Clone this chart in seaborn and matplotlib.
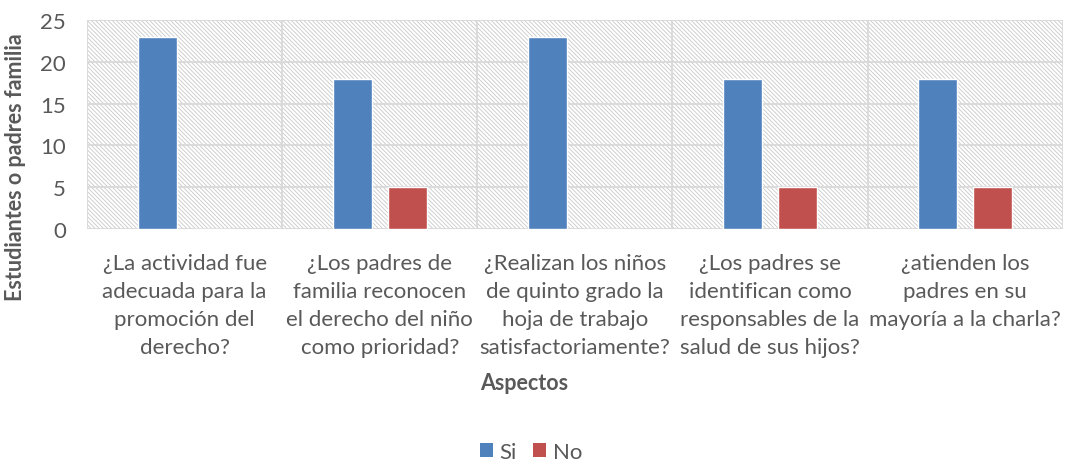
import matplotlib
matplotlib.use("Agg")
import matplotlib.pyplot as plt
from matplotlib.patches import Rectangle, Patch
import seaborn as sns
import pandas as pd

categories = [
    "¿La actividad fue\nadecuada para la\npromoción del\nderecho?",
    "¿Los padres de\nfamilia reconocen\nel derecho del niño\ncomo prioridad?",
    "¿Realizan los niños\nde quinto grado la\nhoja de trabajo\nsatisfactoriamente?",
    "¿Los padres se\nidentifican como\nresponsables de la\nsalud de sus hijos?",
    "¿atienden los\npadres en su\nmayoría a la charla?",
]
si_values = [23, 18, 23, 18, 18]
no_values = [0, 5, 0, 5, 5]
series_names = ["Si", "No"]
colors = ["#4f81bd", "#c0504d"]
y_ticks = [0, 5, 10, 15, 20, 25]

df = pd.DataFrame({
    "Aspecto": categories * 2,
    "Valor": si_values + no_values,
    "Serie": [series_names[0]] * len(categories) + [series_names[1]] * len(categories),
})

sns.set_theme(style="white")
plt.rcParams["font.family"] = ["Lato", "DejaVu Sans"]
plt.rcParams["hatch.linewidth"] = 0.6

text_color = "#595959"
grid_color = "#d9d9d9"

fig = plt.figure(figsize=(10.66, 4.64), dpi=100)
ax = fig.add_axes([0.0816, 0.5043, 0.9154, 0.4504])

sns.barplot(data=df, x="Aspecto", y="Valor", hue="Serie", palette=colors,
            width=0.563, gap=0.29, ax=ax, legend=False, saturation=1,
            order=categories, hue_order=series_names, zorder=3)

n = len(categories)
ax.set_xlim(-0.5, n - 0.5)
ax.set_ylim(0, 25)
ax.set_yticks(y_ticks)

# hatched plot-area background
ax.add_patch(Rectangle((0, 0), 1, 1, transform=ax.transAxes, facecolor="white",
                       edgecolor="#c8c8c8", hatch="\\" * 8, linewidth=0, zorder=0))

# gridlines: horizontal at ticks, vertical at category boundaries
for yv in y_ticks:
    ax.axhline(yv, color=grid_color, linewidth=1.3, zorder=1)
for xb in [i - 0.5 for i in range(n + 1)]:
    ax.axvline(xb, color=grid_color, linewidth=1.3, zorder=1)

for sp in ax.spines.values():
    sp.set_visible(False)

ax.tick_params(axis="both", length=0, colors=text_color, labelsize=16)
ax.tick_params(axis="x", pad=17)
ax.tick_params(axis="y", pad=15)
for lbl in ax.get_xticklabels():
    lbl.set_linespacing(1.5)
    lbl.set_color(text_color)

ax.set_xlabel("")
ax.set_ylabel("Estudiantes o padres familia", fontsize=15.5, fontweight="bold",
              color=text_color)
ax.yaxis.set_label_coords(-0.0625, 0.30)

fig.text(524 / 1066, 1 - 384 / 464, "Aspectos", ha="center", va="center",
         fontsize=15.5, fontweight="bold", color=text_color)

handles = [Patch(facecolor=c, edgecolor="none") for c in colors]
fig.legend(handles, series_names, loc="center", bbox_to_anchor=(0.498, 1 - 453 / 464),
           ncol=2, frameon=False, fontsize=16, handlelength=0.6, handleheight=0.6,
           handletextpad=0.3, columnspacing=0.7, labelcolor=text_color)

fig.savefig("out.png", dpi=100)
